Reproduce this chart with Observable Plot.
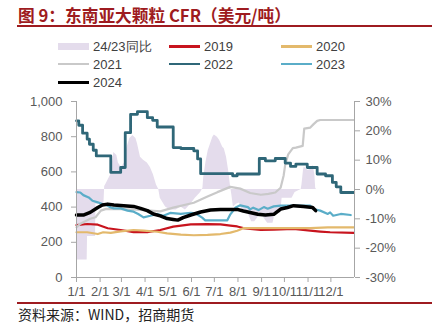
<!DOCTYPE html>
<html><head><meta charset="utf-8">
<script src="https://cdn.jsdelivr.net/npm/d3@7"></script>
<script src="https://cdn.jsdelivr.net/npm/@observablehq/plot@0.6"></script>
<style>
body{margin:0;background:#fff;}
#wrap{position:relative;width:432px;height:334px;overflow:hidden;font-family:"Liberation Sans",Arial,sans-serif;}
#title{position:absolute;left:18px;top:5px;font-weight:bold;font-size:16.7px;font-family:"Noto Sans CJK SC",sans-serif;color:#9e1b20;white-space:nowrap;line-height:20px;}
.rule{position:absolute;left:17px;width:415px;height:2px;background:#9e1b20;}
.leg{position:absolute;height:16px;display:flex;align-items:center;font-size:13px;color:#404040;white-space:nowrap;}
.leg span.sw{display:inline-block;width:31px;margin-right:4px;}
#chart{position:absolute;left:0;top:90px;}
#src{position:absolute;left:18px;top:305px;font-size:14px;font-family:"Noto Sans CJK SC",sans-serif;color:#222;white-space:nowrap;line-height:18px;}
</style></head>
<body>
<div id="wrap">
  <div id="title">图 9：东南亚大颗粒 CFR（美元/吨）</div>
  <div class="rule" style="top:25px"></div>
  <div id="legend"></div>
  <div id="chart"></div>
  <div class="rule" style="top:302px"></div>
  <div id="src">资料来源：WIND，招商期货</div>
</div>
<script>
// x = day of year (0 = 1/1), values in USD/t; yoy in %
const monthTicks = [0,31,59,90,120,151,181,212,243,273,304,334];
const monthLabels = ["1/1","2/1","3/1","4/1","5/1","6/1","7/1","8/1","9/1","10/1","11/1","12/1"];
const leftTicks = [0,200,400,600,800,1000];
const pctTicks = [-30,-20,-10,0,10,20,30];

const yoy = [[0,-24],[14,-24],[14.5,-16],[25,-16],[25.5,-5],[36,-5],[37,1],[39,2],[45,5],[49,12.6],[53,11.6],[55,9],[59,7.5],[63,9],[66,14],[70,17.4],[74,18.4],[78,17.4],[80,15.7],[84,11],[88,10],[93,9],[97,7.5],[101,5],[105,1.5],[108,0],[110,-3],[117,-6],[123,-7],[131,-7],[137,-6],[143,-7],[150,-5],[156,-3],[163,-1],[166,0.4],[167,4],[170,9.3],[173,13.3],[179,17.8],[181,18.6],[185,17.8],[188,16.7],[192,14.4],[194,13.9],[197,11],[200,6],[202,1.5],[204,-2],[206,-6],[210,-5],[214,-4.6],[219,-8],[225,-8],[230,-11],[234,-11],[239,-9.3],[245,-9.3],[251,-11.5],[258,-11.5],[261,-8],[268,-8],[270,-3],[283,-3],[287,-1],[295,0],[296,1.5],[298,6.5],[299,7.6],[304,6.5],[307,6.8],[311,8.2],[313,4.8],[314,0.5],[315,0]];

const s2019 = [[0,298],[14,304],[28,300],[41,280],[58,270],[75,258],[93,258],[110,270],[127,289],[150,302],[172,303],[189,302],[202,295],[211,290],[219,281],[228,276],[242,270],[259,272],[285,276],[307,266],[320,261],[333,257],[364,253]];
const s2020 = [[0,257],[14,257],[28,247],[35,257],[45,254],[58,262],[75,270],[88,266],[106,260],[119,251],[137,244],[154,240],[172,242],[189,247],[202,255],[211,266],[219,280],[242,281],[264,281],[307,281],[330,285],[364,285]];
const s2021 = [[0,285],[5,306],[18,334],[25,342],[32,380],[39,390],[58,388],[80,385],[97,380],[110,376],[127,397],[154,425],[172,460],[185,485],[202,515],[215,505],[228,480],[242,470],[252,475],[261,483],[268,510],[272,580],[274,640],[278,700],[284,735],[288,738],[297,748],[299,846],[307,852],[311,870],[316,890],[320,895],[364,895]];
const s2022 = [[0,890],[3,865],[8,820],[14,786],[17,757],[22,723],[26,691],[45,597],[58,625],[64,823],[71,927],[80,942],[93,908],[100,893],[106,855],[127,738],[137,733],[154,720],[159,674],[163,590],[205,578],[211,588],[240,676],[248,663],[261,676],[274,650],[281,631],[288,644],[303,625],[316,588],[327,578],[336,540],[341,515],[347,483],[364,483]];
const s2023 = [[0,485],[5,483],[9,468],[16,455],[21,436],[28,427],[34,417],[41,408],[45,398],[49,393],[58,393],[67,380],[75,374],[81,361],[88,342],[97,351],[106,361],[114,351],[123,367],[137,362],[150,368],[156,365],[165,340],[169,325],[198,325],[202,359],[209,398],[215,410],[225,400],[228,387],[232,397],[239,383],[246,400],[251,391],[259,404],[268,408],[307,408],[311,389],[320,380],[330,361],[333,370],[337,351],[347,361],[360,355]];
const s2024 = [[0,355],[9,355],[18,370],[28,398],[34,412],[41,417],[49,412],[62,408],[75,404],[84,393],[93,380],[101,361],[110,350],[119,335],[127,330],[133,326],[140,340],[150,355],[163,372],[176,383],[189,387],[211,387],[219,378],[238,359],[248,355],[259,359],[268,389],[277,398],[285,408],[298,404],[310,398],[314,380]];

const seriesNames = ["2019","2020","2021","2022","2023","2024"];
const seriesColors = ["#c8141e","#e3b96c","#c9c9c9","#2f6778","#5aadc8","#000000"];
const seriesWidths = [2.2,2.2,2.2,2.8,2.2,3.5];
const seriesData = [s2019,s2020,s2021,s2022,s2023,s2024];
const seriesCurves = ["linear","linear","linear","step-after","linear","linear"];
const areaName = "24/23同比";
const areaColor = "#e4dcec";

const pctToLeft = p => 500 + p * 1000 / 60;

// legend
const legItems = [{name: areaName, color: areaColor, area: true}]
  .concat(seriesNames.map((n, i) => ({name: n, color: seriesColors[i], w: seriesWidths[i]})));
const colX = [58, 169, 281], rowY = [46.5, 64, 82];
const legend = document.getElementById("legend");
legItems.forEach((it, i) => {
  const d = document.createElement("div");
  d.className = "leg";
  d.style.left = colX[i % 3] + "px";
  d.style.top = (rowY[Math.floor(i / 3)] - 8) + "px";
  const sw = document.createElement("span");
  sw.className = "sw";
  sw.style.height = it.area ? "7px" : (it.w >= 3 ? "3px" : "2.5px");
  sw.style.background = it.color;
  d.appendChild(sw);
  d.appendChild(document.createTextNode(it.name));
  legend.appendChild(d);
});

const marks = [
  Plot.areaY(yoy, {x: d => d[0], y1: () => 500, y2: d => pctToLeft(d[1]), fill: areaColor, curve: "linear"})
];
seriesData.forEach((s, i) => {
  marks.push(Plot.line(s, {x: d => d[0], y: d => d[1], stroke: seriesColors[i], strokeWidth: seriesWidths[i], curve: seriesCurves[i], strokeLinejoin: "round"}));
});
marks.push(
  Plot.ruleX([0, 365], {stroke: "#a6a6a6", strokeWidth: 1}),
  Plot.ruleY([0], {stroke: "#a6a6a6", strokeWidth: 1}),
  Plot.axisY({ticks: leftTicks, tickSize: 5, tickPadding: 9, stroke: "#a6a6a6", fill: "#595959", label: null, tickFormat: d => d3.format(",")(d)}),
  Plot.axisY({anchor: "right", ticks: pctTicks.map(pctToLeft), tickSize: 5, tickPadding: 6, stroke: "#a6a6a6", fill: "#595959", label: null, tickFormat: d => Math.round((d - 500) * 60 / 1000) + "%"}),
  Plot.axisX({ticks: monthTicks, tickSize: 5, tickPadding: 4, stroke: "#a6a6a6", fill: "#595959", label: null, tickFormat: d => monthLabels[monthTicks.indexOf(d)]})
);

const chart = Plot.plot({
  width: 432, height: 215,
  marginTop: 11, marginBottom: 28, marginLeft: 76, marginRight: 78,
  x: {domain: [0, 365]},
  y: {domain: [0, 1000]},
  style: {fontFamily: "Liberation Sans, Arial, sans-serif", fontSize: "13px", background: "transparent", overflow: "visible"},
  marks
});
document.getElementById("chart").appendChild(chart);
</script>
</body></html>
